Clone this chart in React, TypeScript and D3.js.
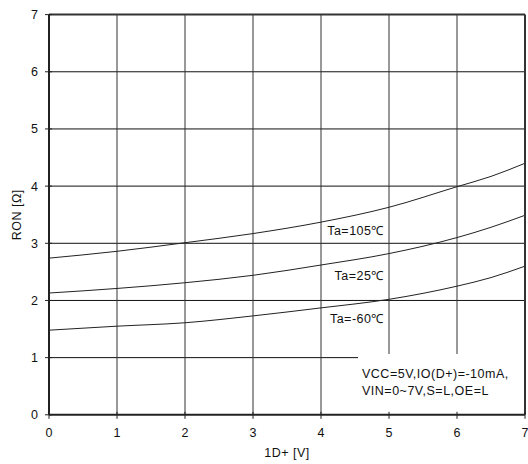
import React from "react";
import * as d3 from "d3";

const xValues = [0, 1, 2, 3, 4, 5, 6, 6.5, 7];
const ron105 = [2.74, 2.86, 3.01, 3.17, 3.37, 3.63, 3.99, 4.17, 4.40];
const ron25 = [2.13, 2.21, 2.31, 2.44, 2.62, 2.82, 3.10, 3.28, 3.49];
const ronM60 = [1.48, 1.55, 1.61, 1.73, 1.87, 2.02, 2.25, 2.40, 2.60];
const seriesLabels = ["Ta=105℃", "Ta=25℃", "Ta=-60℃"];
const xTicks = [0, 1, 2, 3, 4, 5, 6, 7];
const yTicks = [0, 1, 2, 3, 4, 5, 6, 7];
const noteLines = ["VCC=5V,IO(D+)=-10mA,", "VIN=0~7V,S=L,OE=L"];

const W = 528;
const H = 464;
const font = "'Liberation Sans', Arial, sans-serif";
const fs = 12.5;
const ls = 0.5;

export default function App() {
  const x = d3.scaleLinear().domain([0, 7]).range([49, 525]);
  const y = d3.scaleLinear().domain([0, 7]).range([414.8, 14.6]);
  const line = d3
    .line<number>()
    .x((_, i) => x(xValues[i]))
    .y((d) => y(d))
    .curve(d3.curveMonotoneX);

  const series = [ron105, ron25, ronM60];
  const labelY = [235, 280, 323];

  return (
    <svg
      width={W}
      height={H}
      style={{ position: "absolute", left: 0, top: 0, background: "#fff" }}
      fontFamily={font}
    >
      <rect x={0} y={0} width={W} height={H} fill="#fff" />
      {yTicks.slice(1, -1).map((t) => (
        <line key={"gy" + t} x1={x(0)} x2={x(7)} y1={y(t)} y2={y(t)} stroke="#111" strokeWidth={1} />
      ))}
      {xTicks.slice(1, -1).map((t) => (
        <line key={"gx" + t} x1={x(t)} x2={x(t)} y1={y(0)} y2={y(7)} stroke="#333" strokeWidth={1} />
      ))}
      {series.map((s, i) => (
        <path key={"s" + i} d={line(s) || ""} fill="none" stroke="#222" strokeWidth={1} />
      ))}
      {seriesLabels.map((l, i) => (
        <text key={"l" + i} x={384} y={labelY[i]} textAnchor="end" fontSize={fs} letterSpacing={ls} fill="#111">
          {l}
        </text>
      ))}
      <rect x={358} y={354} width={x(7) - 358} height={y(0) - 354} fill="#fff" />
      {noteLines.map((t, i) => (
        <text key={"n" + i} x={362} y={378 + i * 17} fontSize={fs} letterSpacing={ls} fill="#111">
          {t}
        </text>
      ))}
      <line x1={x(0)} x2={x(7)} y1={y(7)} y2={y(7)} stroke="#333" strokeWidth={2} />
      <line x1={x(7)} x2={x(7)} y1={y(0)} y2={y(7)} stroke="#333" strokeWidth={2} />
      <line x1={x(0)} x2={x(7)} y1={y(0)} y2={y(0)} stroke="#222" strokeWidth={2} />
      <line x1={x(0)} x2={x(0)} y1={y(0)} y2={y(7)} stroke="#222" strokeWidth={2} />
      {xTicks.map((t) => (
        <g key={"xt" + t}>
          <line x1={x(t)} x2={x(t)} y1={y(0) - 3} y2={y(0) + 4} stroke="#222" strokeWidth={1} />
          <text x={x(t)} y={437} textAnchor="middle" fontSize={fs} fill="#111">
            {t}
          </text>
        </g>
      ))}
      {yTicks.map((t) => (
        <g key={"yt" + t}>
          <line x1={x(0) - 4} x2={x(0) + 3} y1={y(t)} y2={y(t)} stroke="#222" strokeWidth={1} />
          <text x={38} y={y(t) + 4.5} textAnchor="end" fontSize={fs} fill="#111">
            {t}
          </text>
        </g>
      ))}
      <text x={x(3.5)} y={457} textAnchor="middle" fontSize={fs} letterSpacing={ls} fill="#111">
        1D+ [V]
      </text>
      <text
        transform={`translate(21,${y(3.5)}) rotate(-90)`}
        textAnchor="middle"
        fontSize={fs}
        letterSpacing={ls}
        fill="#111"
      >
        RON [Ω]
      </text>
    </svg>
  );
}
